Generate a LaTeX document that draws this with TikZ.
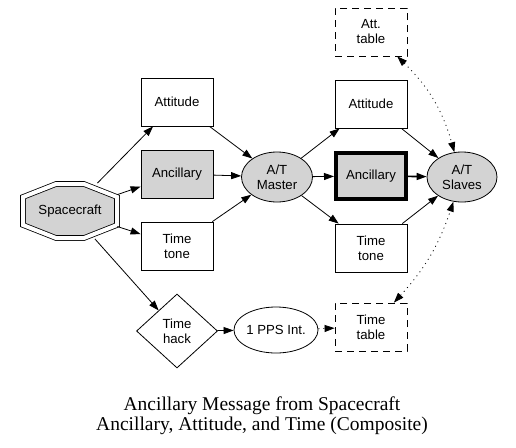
\documentclass[tikz,border=0pt]{standalone}
\usepackage{fontspec}
\setmainfont{Liberation Serif}
\newfontfamily\boxfont{Liberation Sans}
\usetikzlibrary{arrows.meta,shapes.geometric,shapes.misc}
\definecolor{boxgray}{RGB}{211,211,211}
\tikzset{
  msg/.style={draw, minimum width=72pt, minimum height=48pt, inner sep=0pt,
    align=center, font=\boxfont\fontsize{13.2}{15}\selectfont},
  tablebox/.style={msg, dash pattern=on 7pt off 5pt},
  proc/.style={ellipse, draw, inner sep=0pt, align=center,
    font=\boxfont\fontsize{13.2}{15}\selectfont},
  link/.style={-{Triangle[length=10pt,width=7pt]}},
  sparse/.style={dash pattern=on 1pt off 4pt}
}
\begin{document}
\begin{tikzpicture}[x=1pt, y=-1pt, line width=0.8pt]
\useasboundingbox (0,0) rectangle (516,447);
% sources
\node[chamfered rectangle, chamfered rectangle xsep=33pt, chamfered rectangle ysep=13pt,
  minimum width=94pt, minimum height=55pt, inner sep=0pt, text opacity=1] (sc) at (70,211) {};
\draw[fill=boxgray, double, double distance=4pt]
  (23,197) -- (56,184) -- (84,184) -- (117,197) -- (117,225) -- (84,238) -- (56,238) -- (23,225) -- cycle;
\node[font=\boxfont\fontsize{13.2}{15}\selectfont] (sclabel) at (sc) {Spacecraft};
\node[msg] (att1) at (177,102) {Attitude};
\node[msg, fill=boxgray] (anc1) at (177,174) {Ancillary};
\node[msg] (tt1) at (177,246) {Time\\tone};
\node[diamond, draw, minimum width=81pt, minimum height=74pt, inner sep=0pt, align=center,
  font=\boxfont\fontsize{13.2}{15}\selectfont] (hack) at (177,331) {Time\\hack};
% master and slaves
\node[proc, fill=boxgray, minimum width=71pt, minimum height=50pt] (master) at (277,177) {A/T\\Master};
\node[msg] (att2) at (371,104) {Attitude};
\node[msg, fill=boxgray, line width=4pt, minimum width=70pt, minimum height=46pt] (anc2) at (371,176) {Ancillary};
\node[msg] (tt2) at (371,248) {Time\\tone};
\node[proc, fill=boxgray, minimum width=70pt, minimum height=50pt] (slaves) at (462,177) {A/T\\Slaves};
\node[proc, minimum width=77pt, minimum height=46pt] (pps) at (276,330) {1 PPS Int.};
\node[tablebox] (atttab) at (371,32) {Att.\\table};
\node[tablebox] (timetab) at (371,327) {Time\\table};
% caption
\node[align=center, font=\fontsize{19.5}{20}\selectfont] (title) at (262,416)
  {Ancillary Message from Spacecraft\\Ancillary, Attitude, and Time (Composite)};

\draw[link] (sc) -- (att1);
\draw[link] (sc) -- (anc1);
\draw[link] (sc) -- (tt1);
\draw[link] (sc) -- (hack);
\draw[link] (att1) -- (master);
\draw[link] (anc1) -- (master);
\draw[link] (tt1) -- (master);
\draw[link] (master) -- (att2);
\draw[link] (master) -- (anc2);
\draw[link] (master) -- (tt2);
\draw[link] (att2) -- (slaves);
\draw[link, line width=1.6pt] (anc2) -- (slaves);
\draw[link] (tt2) -- (slaves);
\draw[link] (hack) -- (pps);
\draw[link, sparse] (pps) -- (timetab);
\draw[{Triangle[length=10pt,width=7pt]}-{Triangle[length=10pt,width=7pt]}, sparse]
  (atttab) to[bend left=15] (slaves);
\draw[{Triangle[length=10pt,width=7pt]}-{Triangle[length=10pt,width=7pt]}, sparse]
  (timetab) to[bend right=12] (slaves);
\end{tikzpicture}
\end{document}
